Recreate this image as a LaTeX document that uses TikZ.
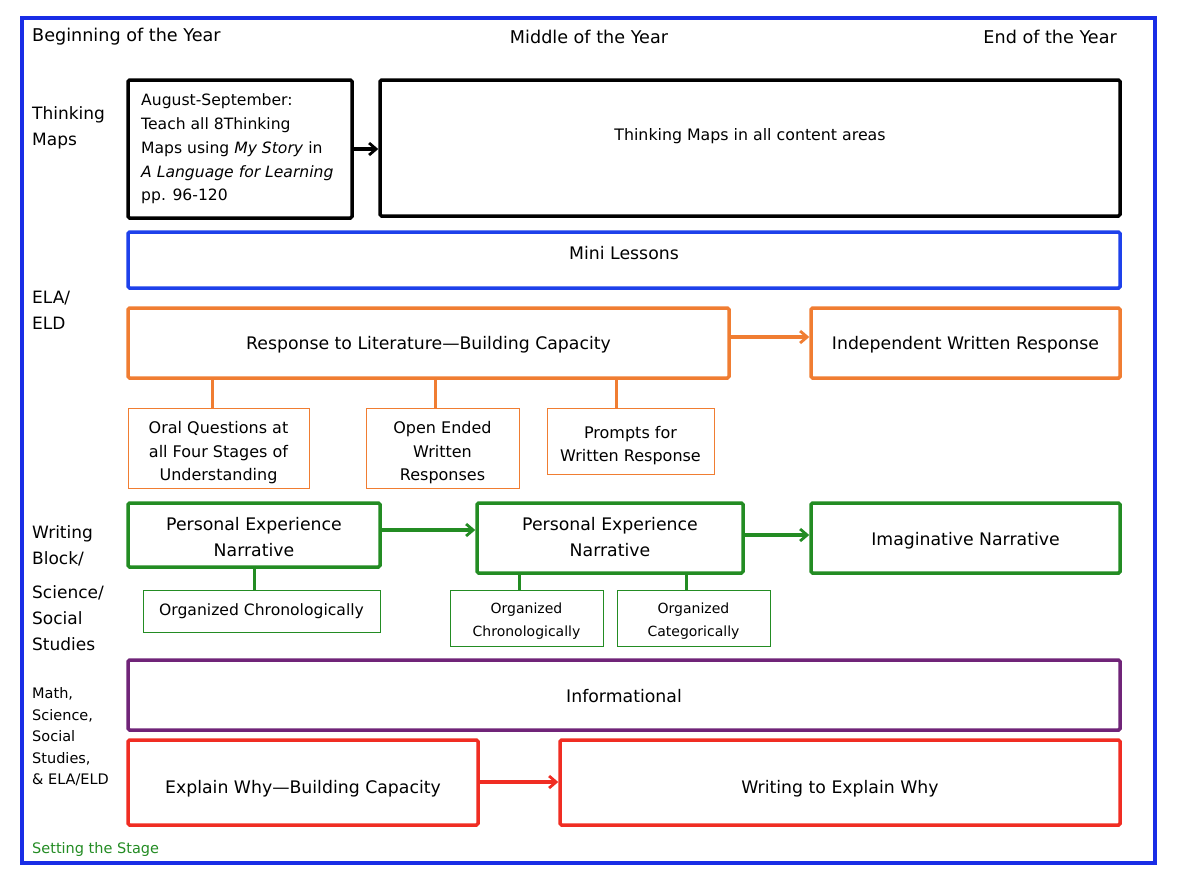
\documentclass[tikz,border=0pt]{standalone}
\usepackage{fontspec}
\setmainfont{DejaVu Sans}
\usetikzlibrary{arrows.meta}
\definecolor{fblue}{RGB}{25,45,230}
\definecolor{mblue}{RGB}{30,65,235}
\definecolor{org}{RGB}{240,125,50}
\definecolor{grn}{RGB}{35,140,35}
\definecolor{pur}{RGB}{112,36,120}
\definecolor{rd}{RGB}{240,45,35}
\tikzset{
  big/.style={draw, line width=3.5pt, rounded corners=1.5pt, fill=white, inner sep=0pt},
  bigtxt/.style={align=center, inner sep=0pt, font=\fontsize{17.3}{26}\selectfont},
  small/.style={draw, line width=0.8pt, inner sep=0pt},
  smalltxt/.style={align=center, inner sep=0pt, font=\fontsize{16}{23.5}\selectfont},
  tinytxt/.style={align=center, inner sep=0pt, font=\fontsize{14}{22.5}\selectfont},
  head/.style={inner sep=0pt, font=\fontsize{17.6}{26}\selectfont},
  lab/.style={anchor=west, align=left, inner sep=0pt, font=\fontsize{17}{26}\selectfont},
  slab/.style={anchor=west, align=left, inner sep=0pt, font=\fontsize{14.5}{21.5}\selectfont},
  arr/.style={line width=3.2pt, -{Straight Barb[length=7pt,width=12pt,line width=2.8pt]}},
  stem/.style={line width=3pt}
}
\begin{document}
\begin{tikzpicture}[x=1pt,y=-1pt]
\useasboundingbox (0,0) rectangle (1177,887);
\fill[white] (0,0) rectangle (1177,887);
\draw[fblue, line width=4pt] (22,18) rectangle (1155,863);

\node[head, anchor=west] (hb) at (32,37) {Beginning of the Year};
\node[head] (hm) at (589,37) {Middle of the Year};
\node[head, anchor=east] (he) at (1117,37) {End of the Year};

\node[lab] (ltm) at (32,128) {Thinking\\Maps};
\node[lab] (lela) at (32,310) {ELA/\\ELD};
\node[lab] (lwb) at (32,546) {Writing\\Block/};
\node[lab] (lss) at (32,618) {Science/\\Social\\Studies};
\node[slab] (lmath) at (32,737) {Math,\\Science,\\Social\\Studies,\\\& ELA/ELD};
\node[slab, text=grn] (lset) at (32,849) {Setting the Stage};

% Thinking maps row
\node[big, draw=black, minimum width=224pt, minimum height=138pt] (A) at (240,149) {};
\node[anchor=west, align=left, inner sep=0pt, font=\fontsize{15.6}{23.8}\selectfont] (At) at (141,149) {August-September:\\Teach all 8Thinking\\Maps using \textit{My Story} in\\\textit{A Language for Learning}\\pp. 96-120};
\node[big, draw=black, minimum width=740pt, minimum height=136pt] (B) at (750,148) {};
\node[bigtxt, font=\fontsize{15.8}{24}\selectfont] (Bt) at ([yshift=12pt]B.center) {Thinking Maps in all content areas};
\draw[arr, black] (A.east |- 0,149) -- (B.west |- 0,149);

% Mini lessons
\node[big, draw=mblue, minimum width=992pt, minimum height=56pt] (ML) at (624,260) {};
\node[bigtxt] (MLt) at ([yshift=7pt]ML.center) {Mini Lessons};

% Response to literature
\node[big, draw=org, minimum width=601pt, minimum height=70pt] (R) at (428.5,343) {};
\node[bigtxt] (Rt) at ([yshift=-2pt]R.center) {Response to Literature—Building Capacity};
\node[big, draw=org, minimum width=309pt, minimum height=70pt] (IW) at (965.5,343) {};
\node[bigtxt] (IWt) at ([yshift=-2pt]IW.center) {Independent Written Response};
\draw[arr, org] (R.east |- 0,337) -- (IW.west |- 0,337);

\node[small, draw=org, minimum width=181pt, minimum height=80pt] (S1) at (218.5,448) {};
\node[smalltxt] (S1t) at ([yshift=-5pt]S1.center) {Oral Questions at\\all Four Stages of\\Understanding};
\node[small, draw=org, minimum width=153pt, minimum height=80pt] (S2) at (442.5,448) {};
\node[smalltxt] (S2t) at ([yshift=-5pt]S2.center) {Open Ended\\Written\\Responses};
\node[small, draw=org, minimum width=167pt, minimum height=66pt] (S3) at (630.5,441) {};
\node[smalltxt] (S3t) at ([yshift=-4.5pt]S3.center) {Prompts for\\Written Response};
\draw[stem, org] (R.south -| 212,0) -- (S1.north -| 212,0);
\draw[stem, org] (R.south -| 435,0) -- (S2.north -| 435,0);
\draw[stem, org] (R.south -| 616,0) -- (S3.north -| 616,0);

% Narratives
\node[big, draw=grn, minimum width=252pt, minimum height=64pt] (P1) at (254,535) {};
\node[bigtxt] (P1t) at ([yshift=-2pt]P1.center) {Personal Experience\\Narrative};
\node[big, draw=grn, minimum width=266pt, minimum height=70pt] (P2) at (610,538) {};
\node[bigtxt] (P2t) at ([yshift=1pt]P2.center) {Personal Experience\\Narrative};
\node[big, draw=grn, minimum width=309pt, minimum height=70pt] (IN) at (965.5,538) {};
\node[bigtxt] (INt) at ([yshift=-3pt]IN.center) {Imaginative Narrative};
\draw[arr, grn] (P1.east |- 0,530) -- (P2.west |- 0,530);
\draw[arr, grn] (P2.east |- 0,535) -- (IN.west |- 0,535);

\node[small, draw=grn, minimum width=237pt, minimum height=42pt] (O1) at (261.5,611) {};
\node[smalltxt, font=\fontsize{15.6}{23}\selectfont] (O1t) at (O1.center) {Organized Chronologically};
\node[small, draw=grn, minimum width=153pt, minimum height=56pt] (O2) at (526.5,618) {};
\node[tinytxt] (O2t) at ([yshift=-3pt]O2.center) {Organized\\Chronologically};
\node[small, draw=grn, minimum width=153pt, minimum height=56pt] (O3) at (693.5,618) {};
\node[tinytxt] (O3t) at ([yshift=-3pt]O3.center) {Organized\\Categorically};
\draw[stem, grn] (P1.south -| 254,0) -- (O1.north -| 254,0);
\draw[stem, grn] (P2.south -| 519,0) -- (O2.north -| 519,0);
\draw[stem, grn] (P2.south -| 686,0) -- (O3.north -| 686,0);

% Informational
\node[big, draw=pur, minimum width=992pt, minimum height=70pt] (INF) at (624,695) {};
\node[bigtxt] (INFt) at ([yshift=-1pt]INF.center) {Informational};

% Explain why
\node[big, draw=rd, minimum width=350pt, minimum height=85pt] (E1) at (303,782.5) {};
\node[bigtxt] (E1t) at ([yshift=-6pt]E1.center) {Explain Why—Building Capacity};
\node[big, draw=rd, minimum width=560pt, minimum height=85pt] (E2) at (840,782.5) {};
\node[bigtxt] (E2t) at ([yshift=-6pt]E2.center) {Writing to Explain Why};
\draw[arr, rd] (E1.east |- 0,782) -- (E2.west |- 0,782);
\end{tikzpicture}
\end{document}
